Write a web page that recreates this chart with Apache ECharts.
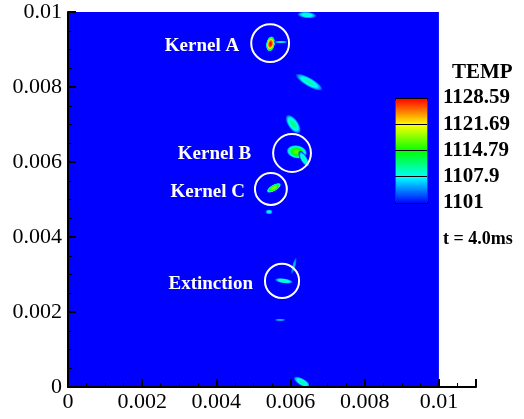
<!DOCTYPE html>
<html><head><meta charset="utf-8">
<script src="https://cdn.jsdelivr.net/npm/echarts@6/dist/echarts.min.js"></script>
<style>html,body{margin:0;padding:0;background:#fff}#c{width:524px;height:419px}</style>
</head><body><div id="c"></div>
<script>
// computational domain (m)
const domainX = [0, 0.01];
const domainY = [0, 0.01];
// hot spots of the temperature field: centre, semi-axes (m), orientation (deg), peak TEMP
const blobX     = [0.00546, 0.00574, 0.00644, 0.00650, 0.00607, 0.00617, 0.00636, 0.00555, 0.00542, 0.00582, 0.00609, 0.00572, 0.00631];
const blobY     = [0.00915, 0.00920, 0.00992, 0.00813, 0.00701, 0.00627, 0.00608, 0.00531, 0.00467, 0.00283, 0.00323, 0.00179, 0.00013];
const blobA     = [0.00021, 0.00019, 0.00026, 0.00042, 0.00030, 0.00028, 0.00024, 0.00022, 0.00010, 0.00025, 0.00024, 0.00015, 0.00026];
const blobB     = [0.00012, 0.000035,0.00009, 0.00012, 0.00014, 0.00018, 0.00009, 0.00009, 0.00007, 0.00007, 0.00005, 0.00004, 0.00010];
const blobAngle = [80, 0, -5, -30, -55, -10, -60, 30, 0, -8, 75, 0, -30];
const blobPeak  = [1128.5, 1108, 1109, 1110, 1111, 1117, 1110, 1119, 1108, 1110, 1106, 1106, 1110];
// annotated kernels
const kernelNames = ['Kernel A', 'Kernel B', 'Kernel C', 'Extinction'];
const kernelX = [0.00545, 0.00604, 0.00547, 0.00577];
const kernelY = [0.00917, 0.00624, 0.00528, 0.00283];
const kernelDiam = [0.00102, 0.00102, 0.00086, 0.00092];
// colour bar
const tempLevels = [1101, 1107.9, 1114.79, 1121.69, 1128.59];
const tempLabels = ['1101', '1107.9', '1114.79', '1121.69', '1128.59'];
const legendTitle = 'TEMP';
const timeLabel = 't = 4.0ms';

const SERIF = '"Liberation Serif","Times New Roman",serif';
const tMin = tempLevels[0], tMax = tempLevels[tempLevels.length - 1];
const cmap = [[0, [0, 0, 255]], [0.25, [0, 255, 255]], [0.5, [0, 255, 0]], [0.75, [255, 255, 0]], [1, [255, 0, 0]]];
function colorOf(T) {
  let t = Math.max(0, Math.min(1, (T - tMin) / (tMax - tMin)));
  for (let i = 1; i < cmap.length; i++) {
    if (t <= cmap[i][0]) {
      const f = (t - cmap[i - 1][0]) / (cmap[i][0] - cmap[i - 1][0]);
      const a = cmap[i - 1][1], b = cmap[i][1];
      return 'rgb(' + a.map((v, k) => Math.round(v + (b[k] - v) * f)).join(',') + ')';
    }
  }
  return 'rgb(255,0,0)';
}
const bgColor = colorOf(tMin);

const blobData = blobX.map((x, i) => [x, blobY[i], blobA[i], blobB[i], blobAngle[i], blobPeak[i]]);
const kernelData = kernelX.map((x, i) => [x, kernelY[i], kernelDiam[i], kernelNames[i]]);
const labelGap = [12, 22, 10, 12];
const labelDy = [3, 1, 3, 3];

const axisCommon = {
  type: 'value', z: 10,
  axisLine: { show: true, onZero: false, lineStyle: { color: '#000', width: 2 } },
  axisTick: { show: true, inside: true, length: 8, lineStyle: { color: '#000', width: 2 } },
  minorTick: { show: true, splitNumber: 4, length: 4, lineStyle: { color: '#000', width: 1 } },
  splitLine: { show: false },
  axisLabel: { color: '#000', fontFamily: SERIF, fontSize: 22 }
};

const chart = echarts.init(document.getElementById('c'));
chart.setOption({
  animation: false,
  backgroundColor: '#fff',
  grid: [
    { left: 68, top: 12, right: 48, bottom: 32 },
    { left: 395, top: 98, width: 32, height: 105 }
  ],
  xAxis: [
    Object.assign({}, axisCommon, { gridIndex: 0, min: 0, max: 0.011, interval: 0.002,
      axisLabel: Object.assign({}, axisCommon.axisLabel, { margin: 4, showMaxLabel: false }) }),
    { gridIndex: 1, type: 'value', min: 0, max: 1, show: false }
  ],
  yAxis: [
    Object.assign({}, axisCommon, { gridIndex: 0, min: 0, max: 0.01, interval: 0.002,
      axisLabel: Object.assign({}, axisCommon.axisLabel, { margin: 6 }) }),
    { gridIndex: 1, type: 'value', position: 'right', z: 20, min: tMin, max: tMax,
      interval: (tMax - tMin) / (tempLevels.length - 1),
      axisLine: { show: false }, axisTick: { show: false },
      splitLine: { show: true, lineStyle: { color: '#000', width: 1 } },
      axisLabel: { margin: 16, color: '#000', fontFamily: SERIF, fontSize: 21, fontWeight: 'bold',
        formatter: function (v) {
          let best = 0;
          tempLevels.forEach((l, i) => { if (Math.abs(l - v) < Math.abs(tempLevels[best] - v)) best = i; });
          return tempLabels[best];
        } } }
  ],
  visualMap: {
    type: 'continuous', min: tMin, max: tMax, seriesIndex: 1, dimension: 5,
    left: 395, top: 98, itemWidth: 32, itemHeight: 105, padding: 0,
    calculable: false, hoverLink: false, z: 15,
    borderColor: '#000', borderWidth: 1,
    inRange: { color: cmap.map(c => 'rgb(' + c[1].join(',') + ')') }
  },
  graphic: [
    { type: 'text', left: 452, top: 62, style: { text: legendTitle, fill: '#000', font: 'bold 21px ' + SERIF } },
    { type: 'text', left: 443, top: 230, style: { text: timeLabel, fill: '#000', font: 'bold 18px ' + SERIF } }
  ],
  series: [
    {
      type: 'custom', xAxisIndex: 0, yAxisIndex: 0, silent: true, clip: true,
      data: [[domainX[0], domainY[0], domainX[1], domainY[1]]],
      renderItem: function (params, api) {
        const p0 = api.coord([api.value(0), api.value(3)]);
        const p1 = api.coord([api.value(2), api.value(1)]);
        return { type: 'rect', shape: { x: p0[0], y: p0[1], width: p1[0] - p0[0], height: p1[1] - p0[1] },
          style: { fill: bgColor } };
      }
    },
    {
      type: 'custom', xAxisIndex: 0, yAxisIndex: 0, silent: true, clip: true,
      data: blobData,
      renderItem: function (params, api) {
        const c = api.coord([api.value(0), api.value(1)]);
        const a = api.size([api.value(2), 0])[0];
        const b = api.size([0, api.value(3)])[1];
        const peak = api.value(5);
        const stops = [];
        const N = 12;
        for (let k = 0; k <= N; k++) {
          const r = k / N;
          const T = tMin + (peak - tMin) * (1 - Math.pow(r, 2.5));
          stops.push({ offset: r, color: colorOf(T) });
        }
        return {
          type: 'circle', x: c[0], y: c[1], rotation: api.value(4) * Math.PI / 180,
          scaleX: 1, scaleY: b / a,
          shape: { cx: 0, cy: 0, r: a },
          style: { fill: new echarts.graphic.RadialGradient(0.5, 0.5, 0.5, stops) }
        };
      }
    },
    {
      type: 'custom', xAxisIndex: 0, yAxisIndex: 0, silent: true, clip: false,
      data: kernelData,
      renderItem: function (params, api) {
        const i = params.dataIndex;
        const c = api.coord([api.value(0), api.value(1)]);
        const r = api.size([api.value(2), 0])[0] / 2;
        return {
          type: 'group', children: [
            { type: 'circle', shape: { cx: c[0], cy: c[1], r: r }, style: { fill: 'none', stroke: '#fff', lineWidth: 2 } },
            { type: 'text', x: c[0] - r - labelGap[i], y: c[1] + labelDy[i],
              style: { text: kernelNames[i], fill: '#fff', font: 'bold 19px ' + SERIF, align: 'right', verticalAlign: 'middle' } }
          ]
        };
      }
    }
  ]
});
</script>
</body></html>
